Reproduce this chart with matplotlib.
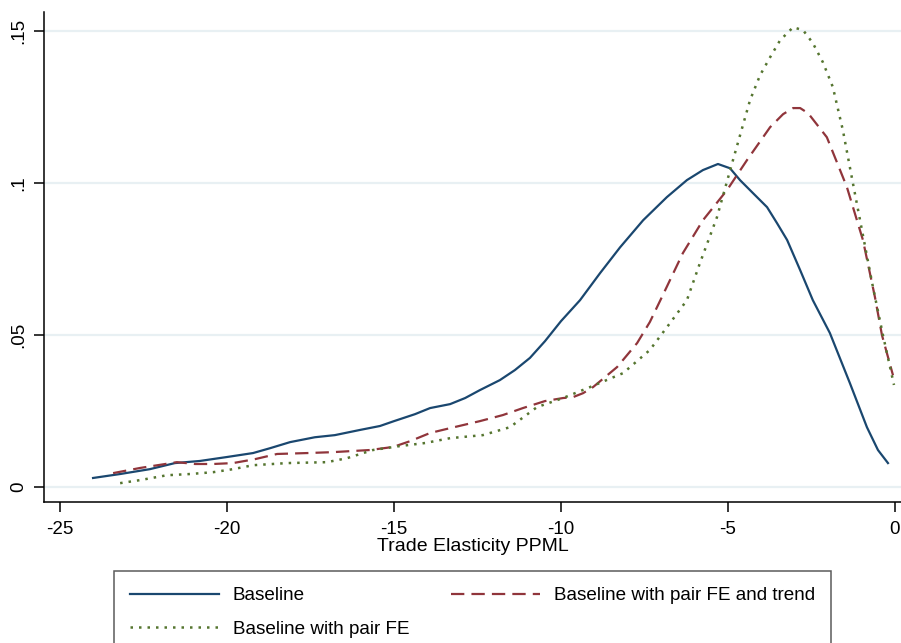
import matplotlib
matplotlib.use("Agg")
import matplotlib.pyplot as plt

plt.rcParams['font.family'] = ['Liberation Sans', 'DejaVu Sans']

# kernel density curves
base_x = [-24.01, -23.20, -22.31, -21.56, -20.81, -20.00, -19.22, -18.71, -18.11, -17.37,
          -16.77, -16.02, -15.42, -15.00, -14.37, -13.92, -13.32, -12.87, -12.43, -11.83,
          -11.38, -10.93, -10.48, -10.00, -9.43, -8.83, -8.23, -7.54, -6.83, -6.23,
          -5.75, -5.30, -4.94, -4.64, -4.25, -3.83, -3.53, -3.23, -2.84, -2.46,
          -1.95, -1.35, -0.84, -0.51, -0.21]
base_y = [0.0030, 0.0043, 0.0059, 0.0079, 0.0086, 0.0099, 0.0112, 0.0128, 0.0148, 0.0164,
          0.0171, 0.0188, 0.0201, 0.0217, 0.0240, 0.0260, 0.0273, 0.0293, 0.0319, 0.0352,
          0.0385, 0.0425, 0.0480, 0.0546, 0.0615, 0.0704, 0.0789, 0.0878, 0.0954, 0.1010,
          0.1043, 0.1063, 0.1049, 0.1010, 0.0967, 0.0921, 0.0868, 0.0813, 0.0714, 0.0615,
          0.0507, 0.0342, 0.0197, 0.0122, 0.0079]

trend_x = [-23.41, -22.60, -21.50, -20.96, -20.42, -19.82, -19.16, -18.50, -17.60, -16.83,
           -15.72, -15.03, -14.52, -13.92, -13.32, -12.43, -11.74, -11.14, -10.48, -9.94,
           -9.64, -9.34, -9.04, -8.32, -7.72, -7.34, -6.98, -6.35, -5.75, -5.03,
           -4.43, -3.74, -3.35, -3.05, -2.84, -2.60, -2.04, -1.44, -0.96, -0.60,
           -0.39, -0.06]
trend_y = [0.0046, 0.0063, 0.0082, 0.0076, 0.0076, 0.0079, 0.0092, 0.0109, 0.0112, 0.0115,
           0.0122, 0.0132, 0.0151, 0.0178, 0.0194, 0.0217, 0.0237, 0.0260, 0.0283, 0.0293,
           0.0296, 0.0309, 0.0329, 0.0395, 0.0474, 0.0543, 0.0625, 0.0770, 0.0878, 0.0977,
           0.1076, 0.1184, 0.1227, 0.1247, 0.1247, 0.1230, 0.1151, 0.0987, 0.0813, 0.0625,
           0.0500, 0.0368]

pair_x = [-23.20, -22.60, -21.80, -21.11, -20.42, -19.82, -19.22, -18.20, -17.01, -16.41,
          -15.63, -14.82, -14.07, -13.32, -12.34, -11.53, -10.72, -9.94, -9.13, -8.14,
          -7.34, -6.74, -6.23, -5.84, -5.33, -4.85, -4.34, -4.04, -3.74, -3.44,
          -3.05, -2.75, -2.46, -2.16, -1.86, -1.56, -1.26, -0.96, -0.66, -0.36,
          -0.03]
pair_y = [0.0013, 0.0023, 0.0039, 0.0043, 0.0049, 0.0059, 0.0072, 0.0079, 0.0082, 0.0095,
          0.0122, 0.0135, 0.0145, 0.0161, 0.0171, 0.0197, 0.0263, 0.0293, 0.0329, 0.0375,
          0.0451, 0.0539, 0.0615, 0.0737, 0.0888, 0.1076, 0.1273, 0.1355, 0.1414, 0.1470,
          0.1513, 0.1503, 0.1461, 0.1398, 0.1316, 0.1174, 0.1000, 0.0829, 0.0658, 0.0500,
          0.0336]

labels = ["Baseline", "Baseline with pair FE", "Baseline with pair FE and trend"]
x_ticks = [-25, -20, -15, -10, -5, 0]
y_ticks = [0, 0.05, 0.1, 0.15]
y_ticklabels = ["0", ".05", ".1", ".15"]

navy = "#1a476f"
maroon = "#90353b"
green = "#55752f"

fig = plt.figure(figsize=(9.01, 6.43), dpi=100)
ax = fig.add_axes([0.0488, 0.2193, 0.9512, 0.7620])

ax.set_xlim(-25.48, 0.18)
ax.set_ylim(-0.0049, 0.1563)

for yv in y_ticks:
    ax.axhline(yv, color="#e8f0f3", lw=1.6, zorder=0)

l1, = ax.plot(base_x, base_y, color=navy, lw=1.6)
l3, = ax.plot(trend_x, trend_y, color=maroon, lw=1.6, dashes=(6, 3.2))
l2, = ax.plot(pair_x, pair_y, color=green, lw=1.8, dashes=(1, 2.4))

ax.spines['top'].set_visible(False)
ax.spines['right'].set_visible(False)
ax.spines['left'].set_linewidth(1.1)
ax.spines['bottom'].set_linewidth(1.1)

ax.set_xticks(x_ticks)
ax.set_xticklabels([str(t) for t in x_ticks], fontsize=13.5)
ax.set_yticks(y_ticks)
ax.set_yticklabels(y_ticklabels, fontsize=13.5, rotation=90, va='center')
ax.tick_params(axis='x', length=7, width=1.1, pad=7)
ax.tick_params(axis='y', length=7, width=1.1, pad=5)
ax.set_xlabel("Trade Elasticity PPML", fontsize=14, labelpad=0)

leg = fig.legend([l1, l2, l3], labels, ncol=2, loc='upper left',
                 bbox_to_anchor=(114 / 901, 1 - 571 / 643), fontsize=13.6,
                 frameon=True, fancybox=False, edgecolor='#333333',
                 handlelength=4.7, handletextpad=0.75, columnspacing=2.2,
                 borderpad=0.85, labelspacing=0.85, borderaxespad=0)
leg.get_frame().set_linewidth(1.1)

fig.savefig("out.png", dpi=100)
